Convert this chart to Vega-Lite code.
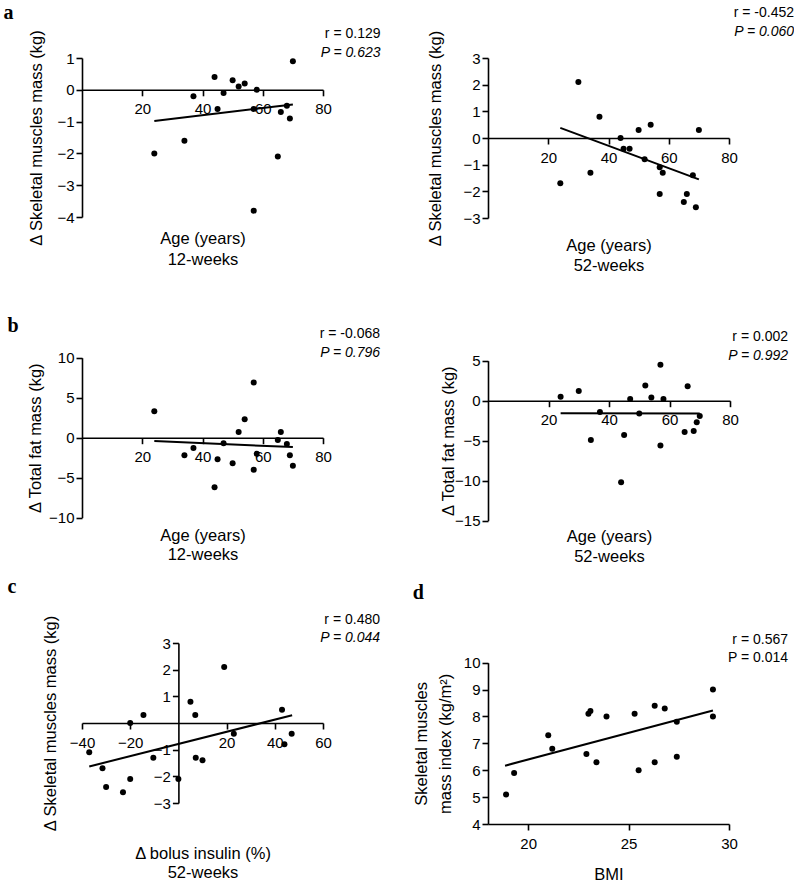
{
  "$schema": "https://vega.github.io/schema/vega-lite/v6.json",
  "background": "white",
  "padding": {"left": 3, "top": 2, "right": 0, "bottom": 0},
  "columns": 2,
  "bounds": "flush",
  "align": "each",
  "spacing": {"row": 120, "column": 165},
  "datasets": {
    "aL": [
      {"x": 24, "y": -2.0}, {"x": 34, "y": -1.6}, {"x": 37, "y": -0.2}, {"x": 44, "y": 0.4},
      {"x": 45, "y": -0.6}, {"x": 47, "y": -0.1}, {"x": 50, "y": 0.3}, {"x": 52, "y": 0.1},
      {"x": 54, "y": 0.2}, {"x": 57, "y": -0.6}, {"x": 57, "y": -3.8}, {"x": 58, "y": 0.0},
      {"x": 65, "y": -2.1}, {"x": 66, "y": -0.7}, {"x": 68, "y": -0.5}, {"x": 69, "y": -0.9},
      {"x": 70, "y": 0.9}
    ],
    "aLfit": [{"x": 24, "y": -0.98}, {"x": 70, "y": -0.46}],
    "aR": [
      {"x": 24, "y": -1.7}, {"x": 30, "y": 2.1}, {"x": 34, "y": -1.3}, {"x": 37, "y": 0.8},
      {"x": 44, "y": 0.0}, {"x": 45, "y": -0.4}, {"x": 47, "y": -0.4}, {"x": 50, "y": 0.3},
      {"x": 52, "y": -0.8}, {"x": 54, "y": 0.5}, {"x": 57, "y": -1.1}, {"x": 57, "y": -2.1},
      {"x": 58, "y": -1.3}, {"x": 65, "y": -2.4}, {"x": 66, "y": -2.1}, {"x": 68, "y": -1.4},
      {"x": 69, "y": -2.6}, {"x": 70, "y": 0.3}
    ],
    "aRfit": [{"x": 24, "y": 0.38}, {"x": 70, "y": -1.55}],
    "bL": [
      {"x": 24, "y": 3.3}, {"x": 34, "y": -2.2}, {"x": 37, "y": -1.3}, {"x": 44, "y": -6.2},
      {"x": 45, "y": -2.7}, {"x": 47, "y": -0.7}, {"x": 50, "y": -3.2}, {"x": 52, "y": 0.7},
      {"x": 54, "y": 2.3}, {"x": 57, "y": 6.9}, {"x": 57, "y": -4.0}, {"x": 58, "y": -2.0},
      {"x": 65, "y": -0.3}, {"x": 66, "y": 0.7}, {"x": 68, "y": -0.8}, {"x": 69, "y": -2.2},
      {"x": 70, "y": -3.5}
    ],
    "bLfit": [{"x": 24, "y": -0.42}, {"x": 70, "y": -1.17}],
    "bR": [
      {"x": 24, "y": 0.5}, {"x": 30, "y": 1.2}, {"x": 34, "y": -4.9}, {"x": 37, "y": -1.4},
      {"x": 44, "y": -10.2}, {"x": 45, "y": -4.3}, {"x": 47, "y": 0.2}, {"x": 50, "y": -1.6},
      {"x": 52, "y": 1.9}, {"x": 54, "y": 0.4}, {"x": 57, "y": 4.5}, {"x": 57, "y": -5.6},
      {"x": 58, "y": 0.2}, {"x": 65, "y": -3.9}, {"x": 66, "y": 1.8}, {"x": 68, "y": -3.8},
      {"x": 69, "y": -2.7}, {"x": 70, "y": -1.9}
    ],
    "bRfit": [{"x": 24, "y": -1.58}, {"x": 70, "y": -1.6}],
    "c": [
      {"x": -37, "y": -1.1}, {"x": -31.5, "y": -1.7}, {"x": -30, "y": -2.4}, {"x": -23, "y": -2.6},
      {"x": -20, "y": -2.1}, {"x": -20, "y": 0.0}, {"x": -14.5, "y": 0.3}, {"x": -10.4, "y": -1.3},
      {"x": 0, "y": -2.1}, {"x": 5, "y": 0.8}, {"x": 7, "y": 0.3}, {"x": 7.2, "y": -1.3},
      {"x": 10, "y": -1.4}, {"x": 19, "y": 2.1}, {"x": 23, "y": -0.4}, {"x": 43, "y": 0.5},
      {"x": 44, "y": -0.8}, {"x": 47, "y": -0.4}
    ],
    "cfit": [{"x": -37, "y": -1.63}, {"x": 47.2, "y": 0.29}],
    "d": [
      {"x": 18.9, "y": 5.1}, {"x": 19.3, "y": 5.9}, {"x": 21.0, "y": 7.3}, {"x": 21.2, "y": 6.8},
      {"x": 22.9, "y": 6.6}, {"x": 23.0, "y": 8.1}, {"x": 23.1, "y": 8.2}, {"x": 23.4, "y": 6.3},
      {"x": 23.9, "y": 8.0}, {"x": 25.3, "y": 8.1}, {"x": 25.5, "y": 6.0}, {"x": 26.3, "y": 8.4},
      {"x": 26.3, "y": 6.3}, {"x": 26.8, "y": 8.3}, {"x": 27.4, "y": 7.8}, {"x": 27.4, "y": 6.5},
      {"x": 29.2, "y": 9.0}, {"x": 29.2, "y": 8.0}
    ],
    "dfit": [{"x": 18.85, "y": 6.17}, {"x": 29.2, "y": 8.22}]
  },
  "concat": [
    {
      "width": 241, "height": 159,
      "title": {"text": "r = 0.129", "subtitle": "P = 0.623", "dx": 57.5, "dy": 58.5},
      "resolve": {"axis": {"x": "independent", "y": "independent"}},
      "layer": [
        {
          "data": {"name": "aL"},
          "mark": {"type": "circle", "size": 36, "color": "black", "opacity": 1},
          "encoding": {
            "x": {"field": "x", "type": "quantitative", "scale": {"domain": [0, 80], "nice": false, "zero": false},
              "axis": {"orient": "bottom", "offset": -127.2, "values": [20, 40, 60, 80], "labelOverlap": false, "title": ["Age (years)", "12-weeks"], "titleY": 154, "titleLineHeight": 20.5}},
            "y": {"field": "y", "type": "quantitative", "scale": {"domain": [-4, 1], "nice": false, "zero": false},
              "axis": {"values": [-4, -3, -2, -1, 0, 1], "labelOverlap": false, "title": "Δ Skeletal muscles mass (kg)", "titleX": -40.3}}
          }
        },
        {
          "data": {"name": "aLfit"},
          "mark": {"type": "line", "color": "black", "strokeWidth": 2},
          "encoding": {
            "x": {"field": "x", "type": "quantitative", "scale": {"domain": [0, 80], "nice": false, "zero": false},
              "axis": {"orient": "top", "domain": false, "ticks": false, "labels": false, "title": "a", "titleX": -79, "titleY": -39.7, "titleAngle": 0, "titleAlign": "left", "titleFont": "Liberation Serif", "titleFontSize": 20, "titleFontWeight": "bold"}},
            "y": {"field": "y", "type": "quantitative", "scale": {"domain": [-4, 1], "nice": false, "zero": false}, "axis": null}
          }
        }
      ]
    },
    {
      "width": 241, "height": 160,
      "title": {"text": "r = -0.452", "subtitle": "P = 0.060", "dx": 65, "dy": 9.8},
      "resolve": {"axis": {"x": "independent", "y": "independent"}},
      "layer": [
        {
          "data": {"name": "aR"},
          "mark": {"type": "circle", "size": 36, "color": "black", "opacity": 1},
          "encoding": {
            "x": {"field": "x", "type": "quantitative", "scale": {"domain": [0, 80], "nice": false, "zero": false},
              "axis": {"orient": "bottom", "offset": -80, "values": [20, 40, 60, 80], "labelOverlap": false, "title": ["Age (years)", "52-weeks"], "titleY": 112.7, "titleLineHeight": 20}},
            "y": {"field": "y", "type": "quantitative", "scale": {"domain": [-3, 3], "nice": false, "zero": false},
              "axis": {"values": [-3, -2, -1, 0, 1, 2, 3], "labelOverlap": false, "title": "Δ Skeletal muscles mass (kg)", "titleX": -47.3}}
          }
        },
        {
          "data": {"name": "aRfit"},
          "mark": {"type": "line", "color": "black", "strokeWidth": 2},
          "encoding": {
            "x": {"field": "x", "type": "quantitative", "scale": {"domain": [0, 80], "nice": false, "zero": false}, "axis": null},
            "y": {"field": "y", "type": "quantitative", "scale": {"domain": [-3, 3], "nice": false, "zero": false}, "axis": null}
          }
        }
      ]
    },
    {
      "width": 241, "height": 185,
      "title": {"text": "r = -0.068", "subtitle": "P = 0.796", "dx": 57, "dy": 45.5},
      "resolve": {"axis": {"x": "independent", "y": "independent"}},
      "layer": [
        {
          "data": {"name": "bL"},
          "mark": {"type": "circle", "size": 36, "color": "black", "opacity": 1},
          "encoding": {
            "x": {"field": "x", "type": "quantitative", "scale": {"domain": [0, 80], "nice": false, "zero": false},
              "axis": {"orient": "bottom", "offset": -85.3, "values": [20, 40, 60, 80], "labelOverlap": false, "title": ["Age (years)", "12-weeks"], "titleY": 103, "titleLineHeight": 19}},
            "y": {"field": "y", "type": "quantitative", "scale": {"domain": [-10, 10], "nice": false, "zero": false, "range": [179.7, 19.7]},
              "axis": {"values": [-10, -5, 0, 5, 10], "labelOverlap": false, "title": "Δ Total fat mass (kg)", "titleX": -41.3}}
          }
        },
        {
          "data": {"name": "bLfit"},
          "mark": {"type": "line", "color": "black", "strokeWidth": 2},
          "encoding": {
            "x": {"field": "x", "type": "quantitative", "scale": {"domain": [0, 80], "nice": false, "zero": false},
              "axis": {"orient": "top", "domain": false, "ticks": false, "labels": false, "title": "b", "titleX": -75, "titleY": -7, "titleAngle": 0, "titleAlign": "left", "titleFont": "Liberation Serif", "titleFontSize": 20, "titleFontWeight": "bold"}},
            "y": {"field": "y", "type": "quantitative", "scale": {"domain": [-10, 10], "nice": false, "zero": false, "range": [179.7, 19.7]}, "axis": null}
          }
        }
      ]
    },
    {
      "width": 242, "height": 185,
      "title": {"text": "r = 0.002", "subtitle": "P = 0.992", "dx": 58, "dy": 25.5},
      "resolve": {"axis": {"x": "independent", "y": "independent"}},
      "layer": [
        {
          "data": {"name": "bR"},
          "mark": {"type": "circle", "size": 36, "color": "black", "opacity": 1},
          "encoding": {
            "x": {"field": "x", "type": "quantitative", "scale": {"domain": [0, 80], "nice": false, "zero": false},
              "axis": {"orient": "bottom", "offset": -122.3, "values": [20, 40, 60, 80], "labelOverlap": false, "title": ["Age (years)", "52-weeks"], "titleY": 141, "titleLineHeight": 19.5}},
            "y": {"field": "y", "type": "quantitative", "scale": {"domain": [-15, 5], "nice": false, "zero": false, "range": [182.7, 22.7]},
              "axis": {"values": [-15, -10, -5, 0, 5], "labelOverlap": false, "title": "Δ Total fat mass (kg)", "titleX": -34.7}}
          }
        },
        {
          "data": {"name": "bRfit"},
          "mark": {"type": "line", "color": "black", "strokeWidth": 2},
          "encoding": {
            "x": {"field": "x", "type": "quantitative", "scale": {"domain": [0, 80], "nice": false, "zero": false}, "axis": null},
            "y": {"field": "y", "type": "quantitative", "scale": {"domain": [-15, 5], "nice": false, "zero": false, "range": [182.7, 22.7]}, "axis": null}
          }
        }
      ]
    },
    {
      "width": 241, "height": 160,
      "title": {"text": "r = 0.480", "subtitle": "P = 0.044", "dx": 57, "dy": 69.3},
      "resolve": {"axis": {"x": "independent", "y": "independent"}},
      "layer": [
        {
          "data": {"name": "c"},
          "mark": {"type": "circle", "size": 36, "color": "black", "opacity": 1},
          "encoding": {
            "x": {"field": "x", "type": "quantitative", "scale": {"domain": [-40, 60], "nice": false, "zero": false},
              "axis": {"orient": "bottom", "offset": -80, "values": [-40, -20, 20, 40, 60], "labelOverlap": false, "title": ["Δ bolus insulin (%)", "52-weeks"], "titleY": 135.3, "titleLineHeight": 19.5}},
            "y": {"field": "y", "type": "quantitative", "scale": {"domain": [-3, 3], "nice": false, "zero": false},
              "axis": {"offset": -96.4, "values": [-3, -2, -1, 1, 2, 3], "labelOverlap": false, "title": "Δ Skeletal muscles mass (kg)", "titleX": -123.3}}
          }
        },
        {
          "data": {"name": "cfit"},
          "mark": {"type": "line", "color": "black", "strokeWidth": 2},
          "encoding": {
            "x": {"field": "x", "type": "quantitative", "scale": {"domain": [-40, 60], "nice": false, "zero": false},
              "axis": {"orient": "top", "domain": false, "ticks": false, "labels": false, "title": "c", "titleX": -75, "titleY": -50.3, "titleAngle": 0, "titleAlign": "left", "titleFont": "Liberation Serif", "titleFontSize": 20, "titleFontWeight": "bold"}},
            "y": {"field": "y", "type": "quantitative", "scale": {"domain": [-3, 3], "nice": false, "zero": false}, "axis": null}
          }
        }
      ]
    },
    {
      "width": 241, "height": 181,
      "title": {"text": "r = 0.567", "subtitle": "P = 0.014", "dx": 59, "dy": 83.7, "subtitleFontStyle": "normal"},
      "resolve": {"axis": {"x": "independent", "y": "independent"}},
      "layer": [
        {
          "data": {"name": "d"},
          "mark": {"type": "circle", "size": 36, "color": "black", "opacity": 1},
          "encoding": {
            "x": {"field": "x", "type": "quantitative", "scale": {"domain": [18, 30], "nice": false, "zero": false},
              "axis": {"orient": "bottom", "values": [20, 25, 30], "labelOverlap": false, "title": "BMI", "titleY": 55.3}},
            "y": {"field": "y", "type": "quantitative", "scale": {"domain": [4, 10], "nice": false, "zero": false, "range": [181, 19.7]},
              "axis": {"values": [4, 5, 6, 7, 8, 9, 10], "labelOverlap": false, "title": ["Skeletal muscles", "mass index (kg/m²)"], "titleX": -62, "titleLineHeight": 24.3}}
          }
        },
        {
          "data": {"name": "dfit"},
          "mark": {"type": "line", "color": "black", "strokeWidth": 2},
          "encoding": {
            "x": {"field": "x", "type": "quantitative", "scale": {"domain": [18, 30], "nice": false, "zero": false},
              "axis": {"orient": "top", "domain": false, "ticks": false, "labels": false, "title": "d", "titleX": -75.7, "titleY": -44.7, "titleAngle": 0, "titleAlign": "left", "titleFont": "Liberation Serif", "titleFontSize": 20, "titleFontWeight": "bold"}},
            "y": {"field": "y", "type": "quantitative", "scale": {"domain": [4, 10], "nice": false, "zero": false, "range": [181, 19.7]}, "axis": null}
          }
        }
      ]
    }
  ],
  "config": {
    "view": {"stroke": null},
    "axis": {
      "grid": false,
      "domainColor": "black", "domainWidth": 1.6,
      "tickColor": "black", "tickWidth": 1.6, "tickSize": 6,
      "labelColor": "black", "labelFont": "Liberation Sans", "labelFontSize": 15,
      "labelFlush": false, "labelOverlap": false,
      "titleColor": "black", "titleFont": "Liberation Sans", "titleFontSize": 16.5, "titleFontWeight": "normal",
      "titleBaseline": "alphabetic"
    },
    "axisX": {"labelPadding": 6},
    "axisY": {"labelPadding": 2},
    "title": {
      "anchor": "end", "frame": "group", "offset": 1,
      "font": "Liberation Sans", "fontSize": 14, "fontWeight": "normal", "color": "black",
      "subtitleFont": "Liberation Sans", "subtitleFontSize": 14, "subtitleColor": "black",
      "subtitleFontStyle": "italic", "subtitlePadding": 4.5
    }
  }
}
